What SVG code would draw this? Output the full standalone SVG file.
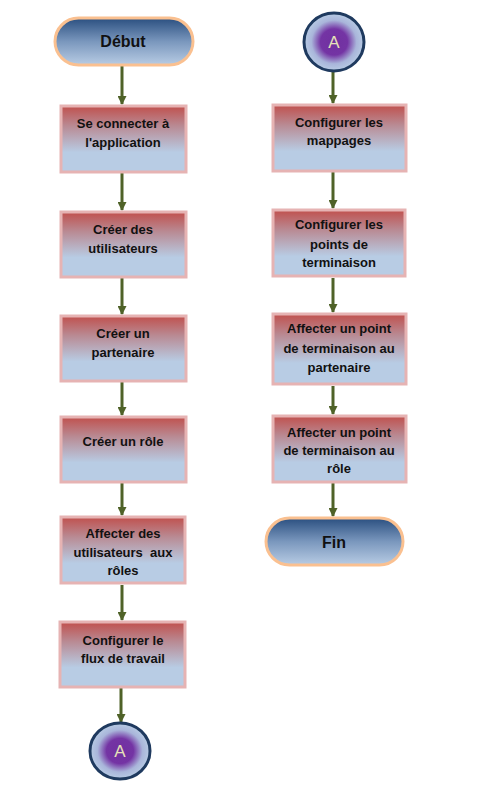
<svg xmlns="http://www.w3.org/2000/svg" width="481" height="802" viewBox="0 0 481 802">
<defs>
<linearGradient id="boxg" x1="0" y1="0" x2="0" y2="1">
<stop offset="0" stop-color="#c0504d"/>
<stop offset="0.3" stop-color="#b98a93"/>
<stop offset="0.7" stop-color="#b8cce4"/>
<stop offset="1" stop-color="#b8cce4"/>
</linearGradient>
<linearGradient id="pillg" x1="0" y1="0" x2="0" y2="1">
<stop offset="0" stop-color="#2a4f80"/>
<stop offset="0.5" stop-color="#7a97bd"/>
<stop offset="1" stop-color="#b8cce4"/>
</linearGradient>
<radialGradient id="circg" cx="0.5" cy="0.5" r="0.5">
<stop offset="0" stop-color="#7030a0"/>
<stop offset="0.45" stop-color="#7434a4"/>
<stop offset="0.75" stop-color="#a9b5da"/>
<stop offset="1" stop-color="#b8cce4"/>
</radialGradient>
<marker id="ah" markerUnits="userSpaceOnUse" markerWidth="10" markerHeight="9" refX="8" refY="4.5" orient="auto" viewBox="0 0 10 9">
<path d="M0,0 L9,4.5 L0,9 Z" fill="#4f6228"/>
</marker>
</defs>
<style>
.box{fill:url(#boxg);stroke:#e6b3b3;stroke-width:3}
.pill{fill:url(#pillg);stroke:#fac090;stroke-width:3}
.circ{fill:url(#circg);stroke:#1f3a5f;stroke-width:3}
.t{font-family:"Liberation Sans",Arial,sans-serif;font-weight:bold;font-size:13px;fill:#111;text-anchor:middle}
.tl{font-family:"Liberation Sans",Arial,sans-serif;font-weight:bold;font-size:16px;fill:#111;text-anchor:middle}
.ta{font-family:"Liberation Sans",Arial,sans-serif;font-size:17px;fill:#e6e2b8;text-anchor:middle}
.c{stroke:#4f6228;stroke-width:3;fill:none;marker-end:url(#ah)}
</style>
<g id="connectors">
<line class="c" x1="122" y1="66" x2="122" y2="104"/>
<line class="c" x1="122" y1="173" x2="122" y2="210"/>
<line class="c" x1="122" y1="278" x2="122" y2="314"/>
<line class="c" x1="122" y1="382" x2="122" y2="415"/>
<line class="c" x1="122" y1="483" x2="122" y2="515"/>
<line class="c" x1="122" y1="585" x2="122" y2="620"/>
<line class="c" x1="121" y1="688" x2="121" y2="722"/>
<line class="c" x1="333" y1="72" x2="333" y2="103"/>
<line class="c" x1="333" y1="172" x2="333" y2="208"/>
<line class="c" x1="333" y1="278" x2="333" y2="312"/>
<line class="c" x1="333" y1="386" x2="333" y2="414"/>
<line class="c" x1="333" y1="483" x2="333" y2="516"/>
</g>
<g id="debut">
<rect class="pill" x="55" y="18" width="138" height="47" rx="23.5"/>
<text class="tl" x="123" y="47">Début</text>
</g>
<g id="n1">
<rect class="box" x="61" y="106" width="125" height="66"/>
<text class="t" x="123" y="128">Se connecter à</text>
<text class="t" x="123" y="147">l'application</text>
</g>
<g id="n2">
<rect class="box" x="61" y="212" width="125" height="65"/>
<text class="t" x="123" y="234">Créer des</text>
<text class="t" x="123" y="253">utilisateurs</text>
</g>
<g id="n3">
<rect class="box" x="61" y="316" width="125" height="65"/>
<text class="t" x="123" y="338">Créer un</text>
<text class="t" x="123" y="357">partenaire</text>
</g>
<g id="n4">
<rect class="box" x="61" y="417" width="125" height="65"/>
<text class="t" x="123" y="446">Créer un rôle</text>
</g>
<g id="n5">
<rect class="box" x="61" y="517" width="124" height="66"/>
<text class="t" x="123" y="538">Affecter des</text>
<text class="t" x="123" y="557">utilisateurs&#160; aux</text>
<text class="t" x="123" y="575">rôles</text>
</g>
<g id="n6">
<rect class="box" x="60" y="622" width="125" height="65"/>
<text class="t" x="123" y="645">Configurer le</text>
<text class="t" x="123" y="663">flux de travail</text>
</g>
<g id="a1">
<ellipse class="circ" cx="120" cy="751" rx="30" ry="28"/>
<text class="ta" x="120" y="757">A</text>
</g>
<g id="a2">
<ellipse class="circ" cx="334" cy="42" rx="30" ry="29"/>
<text class="ta" x="334" y="48">A</text>
</g>
<g id="m1">
<rect class="box" x="273" y="105" width="133" height="66"/>
<text class="t" x="339" y="127">Configurer les</text>
<text class="t" x="339" y="145">mappages</text>
</g>
<g id="m2">
<rect class="box" x="273" y="210" width="132" height="66"/>
<text class="t" x="339" y="229">Configurer les</text>
<text class="t" x="339" y="249">points de</text>
<text class="t" x="339" y="267">terminaison</text>
</g>
<g id="m3">
<rect class="box" x="273" y="314" width="133" height="70"/>
<text class="t" x="339" y="333">Affecter un point</text>
<text class="t" x="339" y="353">de terminaison au</text>
<text class="t" x="339" y="372">partenaire</text>
</g>
<g id="m4">
<rect class="box" x="273" y="416" width="133" height="66"/>
<text class="t" x="339" y="437">Affecter un point</text>
<text class="t" x="339" y="455">de terminaison au</text>
<text class="t" x="339" y="473">rôle</text>
</g>
<g id="fin">
<rect class="pill" x="266" y="518" width="137" height="47" rx="23.5"/>
<text class="tl" x="334" y="548">Fin</text>
</g>
</svg>
